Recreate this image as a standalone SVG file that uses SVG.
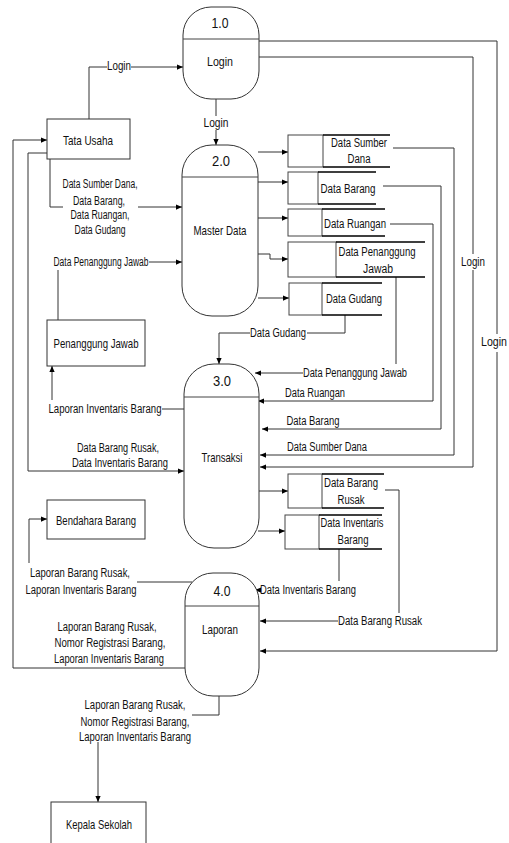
<svg xmlns="http://www.w3.org/2000/svg" width="509" height="843" viewBox="0 0 509 843">
<defs>
<marker id="a" viewBox="0 0 8 8" refX="8" refY="4" markerWidth="6" markerHeight="6" markerUnits="userSpaceOnUse" orient="auto"><path d="M0,0.5 L8,4 L0,7.5 z" fill="#000"/></marker>
</defs>
<style>
text{font-family:"Liberation Sans",Arial,sans-serif;font-size:12px;fill:#111;text-anchor:middle}
.pn{font-size:15px}
.pt{font-size:13px}
.ln{fill:none;stroke:#333;stroke-width:1}
.ar{marker-end:url(#a)}
.proc{fill:#fff;stroke:#333;stroke-width:1}
.ent{fill:#fff;stroke:#333;stroke-width:1}
.sl{fill:none;stroke:#444;stroke-width:1}
.sr{fill:none;stroke:#000;stroke-width:1.5}
</style>
<rect width="509" height="843" fill="#fff"/>

<g id="connectors">
<path class="ln" d="M89 119 V67 H107"/>
<path class="ln ar" d="M131 67 H183"/>
<path class="ln" d="M216 99 V116"/>
<path class="ln ar" d="M216 130 V145"/>
<path class="ln" d="M259 41 H497 V334"/>
<path class="ln ar" d="M497 352 V651 H260"/>
<path class="ln" d="M259 57 H473 V254"/>
<path class="ln ar" d="M473 270 V467 H260"/>
<path class="ln ar" d="M258 152 H288"/>
<path class="ln ar" d="M258 182 H288"/>
<path class="ln ar" d="M258 218 H288"/>
<path class="ln ar" d="M258 254 H270 V259 H288"/>
<path class="ln ar" d="M258 298 H289"/>
<path class="ln" d="M50 159 V207 H63"/>
<path class="ln ar" d="M138 207 H182"/>
<path class="ln" d="M58 320 V270"/>
<path class="ln ar" d="M149 262 H182"/>
<path class="ln ar" d="M393 148 H454 V455 H260"/>
<path class="ln ar" d="M383 186 H441 V429 H262"/>
<path class="ln ar" d="M390 224 H433 V401 H258"/>
<path class="ln" d="M396 277 V364"/>
<path class="ln ar" d="M303 373 H255"/>
<path class="ln" d="M345 315 V333 H307"/>
<path class="ln ar" d="M250 333 H219 V364"/>
<path class="ln ar" d="M258 491 H288"/>
<path class="ln ar" d="M258 531 H285"/>
<path class="ln" d="M385 490 H399 V613"/>
<path class="ln ar" d="M338 621 H260"/>
<path class="ln" d="M339 549 V581"/>
<path class="ln ar" d="M261 590 H255"/>
<path class="ln" d="M185 409 H162"/>
<path class="ln ar" d="M52 400 V366"/>
<path class="ln ar" d="M47 153 H28 V471 H184"/>
<path class="ln ar" d="M185 668 H13 V140 H47"/>
<path class="ln" d="M192 582 H137"/>
<path class="ln ar" d="M29 563 V519 H47"/>
<path class="ln" d="M219 696 V715 H192"/>
<path class="ln ar" d="M98 742 V802"/>

<text x="119" y="70" textLength="24" lengthAdjust="spacingAndGlyphs">Login</text>
<text x="216" y="127" textLength="25" lengthAdjust="spacingAndGlyphs">Login</text>
<text x="494" y="346" textLength="26" lengthAdjust="spacingAndGlyphs">Login</text>
<text x="473" y="266" textLength="24" lengthAdjust="spacingAndGlyphs">Login</text>
<text x="100" y="188" textLength="75" lengthAdjust="spacingAndGlyphs">Data Sumber Dana,</text>
<text x="99" y="205" textLength="52" lengthAdjust="spacingAndGlyphs">Data Barang,</text>
<text x="100" y="219" textLength="59" lengthAdjust="spacingAndGlyphs">Data Ruangan,</text>
<text x="100" y="234" textLength="51" lengthAdjust="spacingAndGlyphs">Data Gudang</text>
<text x="101" y="266" textLength="95" lengthAdjust="spacingAndGlyphs">Data Penanggung Jawab</text>
<text x="105" y="413" textLength="113" lengthAdjust="spacingAndGlyphs">Laporan Inventaris Barang</text>
<text x="118" y="452" textLength="82" lengthAdjust="spacingAndGlyphs">Data Barang Rusak,</text>
<text x="120" y="467" textLength="96" lengthAdjust="spacingAndGlyphs">Data Inventaris Barang</text>
<text x="80" y="577" textLength="100" lengthAdjust="spacingAndGlyphs">Laporan Barang Rusak,</text>
<text x="81" y="594" textLength="111" lengthAdjust="spacingAndGlyphs">Laporan Inventaris Barang</text>
<text x="107" y="631" textLength="99" lengthAdjust="spacingAndGlyphs">Laporan Barang Rusak,</text>
<text x="110" y="647" textLength="111" lengthAdjust="spacingAndGlyphs">Nomor Registrasi Barang,</text>
<text x="109" y="663" textLength="110" lengthAdjust="spacingAndGlyphs">Laporan Inventaris Barang</text>
<text x="135" y="709" textLength="101" lengthAdjust="spacingAndGlyphs">Laporan Barang Rusak,</text>
<text x="135" y="726" textLength="109" lengthAdjust="spacingAndGlyphs">Nomor Registrasi Barang,</text>
<text x="135" y="741" textLength="112" lengthAdjust="spacingAndGlyphs">Laporan Inventaris Barang</text>
<text x="278" y="337" textLength="56" lengthAdjust="spacingAndGlyphs">Data Gudang</text>
<text x="355" y="377" textLength="104" lengthAdjust="spacingAndGlyphs">Data Penanggung Jawab</text>
<text x="315" y="397" textLength="60" lengthAdjust="spacingAndGlyphs">Data Ruangan</text>
<text x="313" y="425" textLength="53" lengthAdjust="spacingAndGlyphs">Data Barang</text>
<text x="327" y="451" textLength="80" lengthAdjust="spacingAndGlyphs">Data Sumber Dana</text>
<text x="308" y="594" textLength="96" lengthAdjust="spacingAndGlyphs">Data Inventaris Barang</text>
<text x="380" y="625" textLength="84" lengthAdjust="spacingAndGlyphs">Data Barang Rusak</text>
</g>

<g id="p1">
<rect class="proc" x="183" y="7" width="76" height="92" rx="28" ry="28"/>
<line class="sl" x1="183" y1="39" x2="259" y2="39"/>
<text class="pn" x="220" y="28" textLength="17" lengthAdjust="spacingAndGlyphs">1.0</text>
<text class="pt" x="220" y="66" textLength="26" lengthAdjust="spacingAndGlyphs">Login</text>
</g>
<g id="p2">
<rect class="proc" x="182" y="145" width="76" height="171" rx="30" ry="30"/>
<line class="sl" x1="182" y1="177" x2="258" y2="177"/>
<text class="pn" x="221" y="166" textLength="18" lengthAdjust="spacingAndGlyphs">2.0</text>
<text class="pt" x="220" y="235" textLength="53" lengthAdjust="spacingAndGlyphs">Master Data</text>
</g>
<g id="p3">
<rect class="proc" x="184" y="364" width="75" height="184" rx="30" ry="30"/>
<line class="sl" x1="184" y1="397" x2="259" y2="397"/>
<text class="pn" x="222" y="386" textLength="18" lengthAdjust="spacingAndGlyphs">3.0</text>
<text class="pt" x="222" y="462" textLength="41" lengthAdjust="spacingAndGlyphs">Transaksi</text>
</g>
<g id="p4">
<rect class="proc" x="185" y="573" width="74" height="123" rx="28" ry="28"/>
<line class="sl" x1="185" y1="606" x2="259" y2="606"/>
<text class="pn" x="222" y="596" textLength="17" lengthAdjust="spacingAndGlyphs">4.0</text>
<text class="pt" x="220" y="634" textLength="36" lengthAdjust="spacingAndGlyphs">Laporan</text>
</g>

<g id="tata-usaha">
<rect class="ent" x="47" y="119" width="83" height="40"/>
<text class="pt" x="88" y="145" textLength="50" lengthAdjust="spacingAndGlyphs">Tata Usaha</text>
</g>
<g id="penanggung-jawab">
<rect class="ent" x="47" y="320" width="98" height="46"/>
<text class="pt" x="96" y="348" textLength="85" lengthAdjust="spacingAndGlyphs">Penanggung Jawab</text>
</g>
<g id="bendahara-barang">
<rect class="ent" x="47" y="500" width="98" height="39"/>
<text class="pt" x="96" y="525" textLength="80" lengthAdjust="spacingAndGlyphs">Bendahara Barang</text>
</g>
<g id="kepala-sekolah">
<rect class="ent" x="51" y="802" width="95" height="50"/>
<text class="pt" x="99" y="829" textLength="66" lengthAdjust="spacingAndGlyphs">Kepala Sekolah</text>
</g>

<g id="ds-sumber-dana">
<rect class="sl" x="288" y="135" width="35" height="32"/>
<path class="sr" d="M323 135 H390 M323 167 H390"/>
<text x="359" y="147" textLength="56" lengthAdjust="spacingAndGlyphs">Data Sumber</text>
<text x="359" y="163" textLength="23" lengthAdjust="spacingAndGlyphs">Dana</text>
</g>
<g id="ds-barang">
<rect class="sl" x="288" y="172" width="30" height="32"/>
<path class="sr" d="M318 172 H376 M318 204 H376"/>
<text x="348" y="193" textLength="55" lengthAdjust="spacingAndGlyphs">Data Barang</text>
</g>
<g id="ds-ruangan">
<rect class="sl" x="288" y="209" width="34" height="27"/>
<path class="sr" d="M322 209 H385 M322 236 H385"/>
<text x="355" y="228" textLength="62" lengthAdjust="spacingAndGlyphs">Data Ruangan</text>
</g>
<g id="ds-penanggung-jawab">
<rect class="sl" x="288" y="242" width="48" height="35"/>
<path class="sr" d="M336 242 H425 M336 277 H425"/>
<text x="377" y="256" textLength="77" lengthAdjust="spacingAndGlyphs">Data Penanggung</text>
<text x="378" y="273" textLength="30" lengthAdjust="spacingAndGlyphs">Jawab</text>
</g>
<g id="ds-gudang">
<rect class="sl" x="289" y="283" width="33" height="32"/>
<path class="sr" d="M322 283 H382 M322 315 H382"/>
<text x="354" y="303" textLength="56" lengthAdjust="spacingAndGlyphs">Data Gudang</text>
</g>
<g id="ds-barang-rusak">
<rect class="sl" x="288" y="474" width="34" height="34"/>
<path class="sr" d="M322 474 H384 M322 508 H384"/>
<text x="351" y="487" textLength="54" lengthAdjust="spacingAndGlyphs">Data Barang</text>
<text x="351" y="504" textLength="27" lengthAdjust="spacingAndGlyphs">Rusak</text>
</g>
<g id="ds-inventaris-barang">
<rect class="sl" x="285" y="515" width="34" height="34"/>
<path class="sr" d="M319 515 H382 M319 549 H382"/>
<text x="352" y="527" textLength="63" lengthAdjust="spacingAndGlyphs">Data Inventaris</text>
<text x="353" y="544" textLength="31" lengthAdjust="spacingAndGlyphs">Barang</text>
</g>
</svg>
